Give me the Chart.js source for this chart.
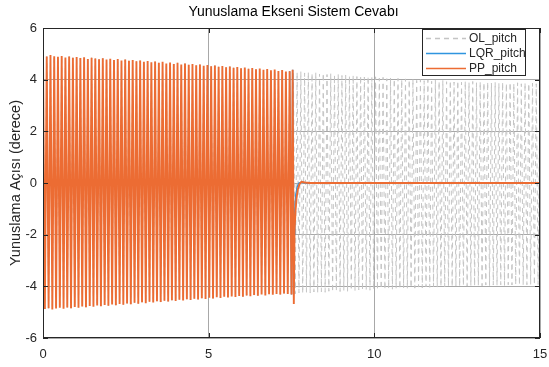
<!DOCTYPE html>
<html>
<head>
<meta charset="utf-8">
<script src="https://cdn.jsdelivr.net/npm/chart.js@4.4.0/dist/chart.umd.min.js"></script>
<style>
  html, body { margin: 0; padding: 0; background: #fff; }
  #c { display: block; }
</style>
</head>
<body>
<canvas id="c" width="549" height="367"></canvas>
<script>
// peak / trough values of the open loop pitch response, one per half cycle
const peakSpacing = 15 / 266;
const olUpper = [
  4.93,4.90,4.95,4.91,4.89,4.92,4.86,4.90,4.85,4.88,
  4.84,4.87,4.80,4.85,4.82,4.79,4.83,4.78,4.81,4.76,
  4.80,4.74,4.78,4.73,4.76,4.71,4.74,4.69,4.72,4.67,
  4.70,4.65,4.69,4.63,4.66,4.61,4.65,4.59,4.63,4.58,
  4.61,4.56,4.59,4.54,4.57,4.52,4.55,4.50,4.53,4.48,
  4.51,4.46,4.49,4.44,4.47,4.42,4.45,4.40,4.43,4.38,
  4.41,4.36,4.39,4.34,4.37,4.32,4.33,
  4.30,4.28,4.31,4.26,4.29,4.24,4.27,4.22,4.25,4.20,
  4.23,4.18,4.21,4.16,4.19,4.14,4.17,4.12,4.15,4.10,
  4.13,4.08,4.11,4.06,4.09,4.04,4.07,4.02,4.05,4.00,
  4.03,3.99,4.02,3.97,4.00,3.96,3.99,3.94,3.98,3.93,
  3.97,3.92,3.96,3.91,3.95,3.90,3.94,3.89,3.93,3.88,
  3.92,3.88,3.91,3.87,3.90,3.86,3.90,3.85,3.89,3.85,
  3.88,3.84,3.88,3.85,3.87,3.84,3.86
];
const olLower = [
  -4.88,-4.85,-4.90,-4.86,-4.83,-4.87,-4.82,-4.85,-4.80,-4.83,
  -4.78,-4.81,-4.76,-4.79,-4.74,-4.77,-4.72,-4.75,-4.70,-4.73,
  -4.68,-4.71,-4.66,-4.69,-4.64,-4.67,-4.62,-4.65,-4.60,-4.63,
  -4.58,-4.61,-4.56,-4.59,-4.54,-4.57,-4.52,-4.55,-4.50,-4.53,
  -4.48,-4.51,-4.46,-4.49,-4.44,-4.47,-4.42,-4.45,-4.40,-4.43,
  -4.39,-4.41,-4.37,-4.40,-4.35,-4.38,-4.34,-4.36,-4.32,-4.35,
  -4.31,-4.33,-4.30,-4.32,-4.28,-4.30,
  -4.27,-4.29,-4.25,-4.27,-4.23,-4.26,-4.22,-4.24,-4.21,-4.23,
  -4.19,-4.22,-4.18,-4.20,-4.16,-4.19,-4.15,-4.17,-4.14,-4.16,
  -4.12,-4.15,-4.11,-4.13,-4.10,-4.12,-4.08,-4.11,-4.07,-4.09,
  -4.06,-4.08,-4.05,-4.07,-4.03,-4.06,-4.02,-4.04,-4.01,-4.03,
  -4.00,-4.02,-3.99,-4.01,-3.98,-4.00,-3.97,-3.99,-3.97,-3.98,
  -3.96,-3.98,-3.95,-3.97,-3.95,-3.96,-3.94,-3.96,-3.94,-3.95,
  -3.93,-3.95,-3.93,-3.94,-3.92,-3.94,-3.93
];

// controllers switch on at ~7.5 s; before that they follow the open loop
// (the LQR trace is hidden under PP there, so it is only drawn from the switch)
const switchIndex = 133;
const ppTailT  = [7.50, 7.535, 7.57, 7.59, 7.62, 7.65, 7.69, 7.74, 7.80, 7.90, 8.05, 15];
const ppTailY  = [-4.32, 4.38, -4.68, -1.9, -1.1, -0.6, -0.25, -0.05, 0.05, 0.02, 0, 0];
const lqrTailT = [7.50, 7.535, 7.565, 7.58, 7.60, 7.63, 7.67, 7.72, 7.80, 7.95, 15];
const lqrTailY = [-4.32, 4.38, -4.3, -2.0, -1.0, -0.45, -0.15, 0.0, 0.03, 0.0, 0];

const xTicks = [0, 5, 10, 15];
const yTicks = [-6, -4, -2, 0, 2, 4, 6];
const chartTitle = 'Yunuslama Ekseni Sistem Cevabı';

const olPoints = [];
for (let k = 0; k < olUpper.length + olLower.length; k++) {
  const v = k % 2 === 0 ? olUpper[k / 2] : olLower[(k - 1) / 2];
  olPoints.push({ x: k * peakSpacing, y: v });
}
const tail = (ts, ys) => ts.map((t, i) => ({ x: t, y: ys[i] }));
const ppPoints = olPoints.slice(0, switchIndex).concat(tail(ppTailT, ppTailY));
const lqrPoints = olPoints.slice(switchIndex - 1, switchIndex).concat(tail(lqrTailT, lqrTailY));

const FONT = 'Liberation Sans, Arial, Helvetica, sans-serif';
const TXT = '#262626';

const framePlugin = {
  id: 'frame',
  afterDraw(chart) {
    const { ctx, chartArea: a, scales: { x, y } } = chart;
    ctx.save();
    ctx.strokeStyle = TXT;
    ctx.lineWidth = 1;
    ctx.strokeRect(a.left + 0.5, a.top + 0.5, a.right - a.left - 1, a.bottom - a.top - 1);
    ctx.beginPath();
    xTicks.forEach(v => {
      const px = Math.round(x.getPixelForValue(v)) + 0.5;
      ctx.moveTo(px, a.bottom); ctx.lineTo(px, a.bottom - 5);
      ctx.moveTo(px, a.top); ctx.lineTo(px, a.top + 5);
    });
    yTicks.forEach(v => {
      const py = Math.round(y.getPixelForValue(v)) + 0.5;
      ctx.moveTo(a.left, py); ctx.lineTo(a.left + 5, py);
      ctx.moveTo(a.right, py); ctx.lineTo(a.right - 5, py);
    });
    ctx.stroke();

    // title centred over the axes, like MATLAB
    ctx.fillStyle = '#000';
    ctx.font = '14px ' + FONT;
    ctx.textAlign = 'center';
    ctx.textBaseline = 'middle';
    ctx.fillText(chartTitle, (a.left + a.right) / 2 + 2, 12.5);

    // legend box in the top right corner
    const bx = a.right - 118, by = 29, bw = 103, bh = 46;
    ctx.fillStyle = '#fff';
    ctx.fillRect(bx, by, bw, bh);
    ctx.strokeStyle = TXT;
    ctx.strokeRect(bx + 0.5, by + 0.5, bw, bh);
    ctx.font = '12px ' + FONT;
    ctx.textAlign = 'left';
    const items = chart.data.datasets.slice().sort((p, q) => q.order - p.order);
    items.forEach((ds, i) => {
      const ry = by + 9.5 + i * 15;
      ctx.strokeStyle = ds.borderColor;
      ctx.lineWidth = 1.5;
      ctx.setLineDash(ds.borderDash || []);
      ctx.beginPath();
      ctx.moveTo(bx + 4, ry); ctx.lineTo(bx + 44, ry);
      ctx.stroke();
      ctx.setLineDash([]);
      ctx.fillStyle = TXT;
      ctx.fillText(ds.label, bx + 47, ry);
    });
    ctx.restore();
  }
};

new Chart(document.getElementById('c'), {
  type: 'line',
  data: {
    datasets: [
      { label: 'OL_pitch', data: olPoints, borderColor: '#c4c4c4', borderWidth: 1, borderDash: [5, 4], pointRadius: 0, order: 3 },
      { label: 'LQR_pitch', data: lqrPoints, borderColor: '#2f95df', borderWidth: 1.4, pointRadius: 0, order: 2 },
      { label: 'PP_pitch', data: ppPoints, borderColor: '#ec6c33', borderWidth: 1.9, pointRadius: 0, order: 1 }
    ]
  },
  options: {
    responsive: false,
    animation: false,
    layout: { padding: { left: 0, right: 9, top: 28, bottom: 0 } },
    plugins: {
      legend: { display: false },
      tooltip: { enabled: false },
      title: { display: false }
    },
    scales: {
      x: {
        type: 'linear', min: 0, max: 15,
        afterFit: s => { s.height = 29; s.paddingLeft = 0; s.paddingRight = 0; },
        afterBuildTicks: s => { s.ticks = xTicks.map(v => ({ value: v })); },
        ticks: { color: TXT, font: { family: FONT, size: 13 }, padding: 9, maxRotation: 0 },
        grid: { color: '#a8a8a8', drawTicks: false },
        border: { display: false }
      },
      y: {
        type: 'linear', min: -6, max: 6,
        afterFit: s => { s.width = 43; s.paddingTop = 0; s.paddingBottom = 0; },
        afterBuildTicks: s => { s.ticks = yTicks.map(v => ({ value: v })); },
        ticks: { color: TXT, font: { family: FONT, size: 13 }, padding: 6 },
        grid: { color: '#a8a8a8', drawTicks: false },
        border: { display: false },
        title: {
          display: true,
          text: 'Yunuslama Açısı (derece)',
          color: TXT,
          font: { family: FONT, size: 14.5 },
          padding: { top: 7, bottom: 0 }
        }
      }
    }
  },
  plugins: [framePlugin]
});
</script>
</body>
</html>
